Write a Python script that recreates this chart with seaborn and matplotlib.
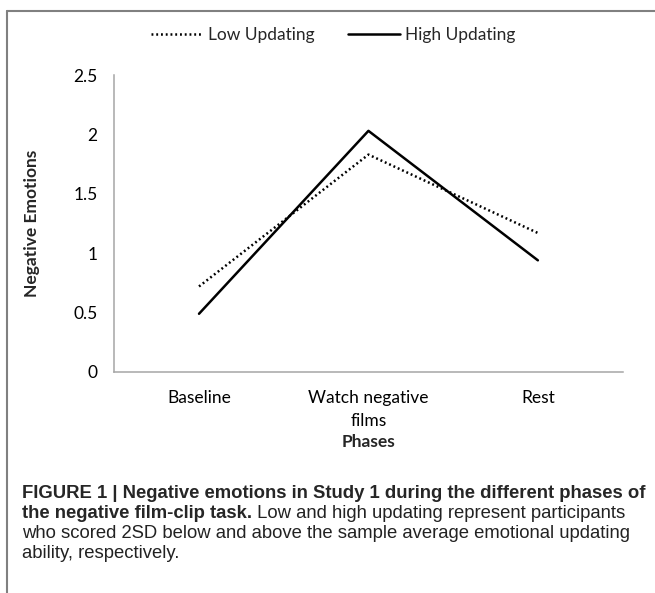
import pandas as pd
import seaborn as sns
import matplotlib
matplotlib.use('Agg')
from matplotlib import pyplot as plt
from matplotlib.lines import Line2D

# values
phases = ['Baseline', 'Watch negative\nfilms', 'Rest']
low_updating = [0.72, 1.83, 1.17]
high_updating = [0.49, 2.03, 0.94]
y_ticks = [0, 0.5, 1, 1.5, 2, 2.5]
y_tick_labels = ['0', '0.5', '1', '1.5', '2', '2.5']

sns.set_style('white')
plt.rcParams['font.family'] = ['Lato', 'DejaVu Sans']

fig = plt.figure(figsize=(6.55, 5.93), dpi=100)
ax = fig.add_axes([0.1745, 0.3727, 0.776, 0.5008])

sns.lineplot(x=phases, y=low_updating, sort=False, color='black',
             linewidth=1.8, linestyle=(0, (0.75, 1.15)), label='Low Updating', ax=ax)
sns.lineplot(x=phases, y=high_updating, sort=False, color='black',
             linewidth=1.8, linestyle='-', label='High Updating', ax=ax)

ax.set_xlim(-0.5, 2.5)
ax.set_ylim(0, 2.5)
ax.set_yticks(y_ticks)
ax.set_yticklabels(y_tick_labels)

for s in ['top', 'right']:
    ax.spines[s].set_visible(False)
for s in ['left', 'bottom']:
    ax.spines[s].set_color('#a6a6a6')
    ax.spines[s].set_linewidth(1.1)

ax.tick_params(axis='both', length=0, labelsize=12.5, colors='black')
ax.tick_params(axis='y', pad=12)
ax.tick_params(axis='x', pad=13)
plt.setp(ax.get_xticklabels(), linespacing=1.5)
ax.grid(False)

ax.set_xlabel('Phases', fontsize=12.5, fontweight='bold')
ax.set_ylabel('Negative Emotions', fontsize=12.5, fontweight='bold')
ax.xaxis.set_label_coords(0.5, -0.21)
ax.yaxis.set_label_coords(-0.146, 0.5)

ax.legend(loc='center', bbox_to_anchor=(0.509, 0.941), bbox_transform=fig.transFigure,
          ncol=2, frameon=False, fontsize=12.5, handlelength=3.0,
          handletextpad=0.3, columnspacing=1.9)

# frame around the figure panel
fig.add_artist(Line2D([7 / 655, 1.0], [1 - 11 / 593, 1 - 11 / 593], color='#808080',
                      linewidth=1.5, transform=fig.transFigure))
fig.add_artist(Line2D([7 / 655, 7 / 655], [0, 1 - 11 / 593], color='#808080',
                      linewidth=1.5, transform=fig.transFigure))

# caption
cap = dict(fontsize=13.3, family=['Liberation Sans', 'DejaVu Sans'], va='center')
x0 = 22 / 655
ys = [1 - 493 / 593, 1 - 513 / 593, 1 - 533 / 593, 1 - 554 / 593]
fig.text(x0, ys[0], 'FIGURE 1 | Negative emotions in Study 1 during the different phases of',
         fontweight='bold', **cap)
t = fig.text(x0, ys[1], 'the negative film-clip task.', fontweight='bold', **cap)
fig.canvas.draw()
bb = t.get_window_extent()
fig.text(bb.x1 / fig.bbox.width, ys[1], ' Low and high updating represent participants',
         color='#222222', **cap)
fig.text(x0, ys[2], 'who scored 2SD below and above the sample average emotional updating',
         color='#222222', **cap)
fig.text(x0, ys[3], 'ability, respectively.', color='#222222', **cap)

plt.savefig('out.png', dpi=100)
